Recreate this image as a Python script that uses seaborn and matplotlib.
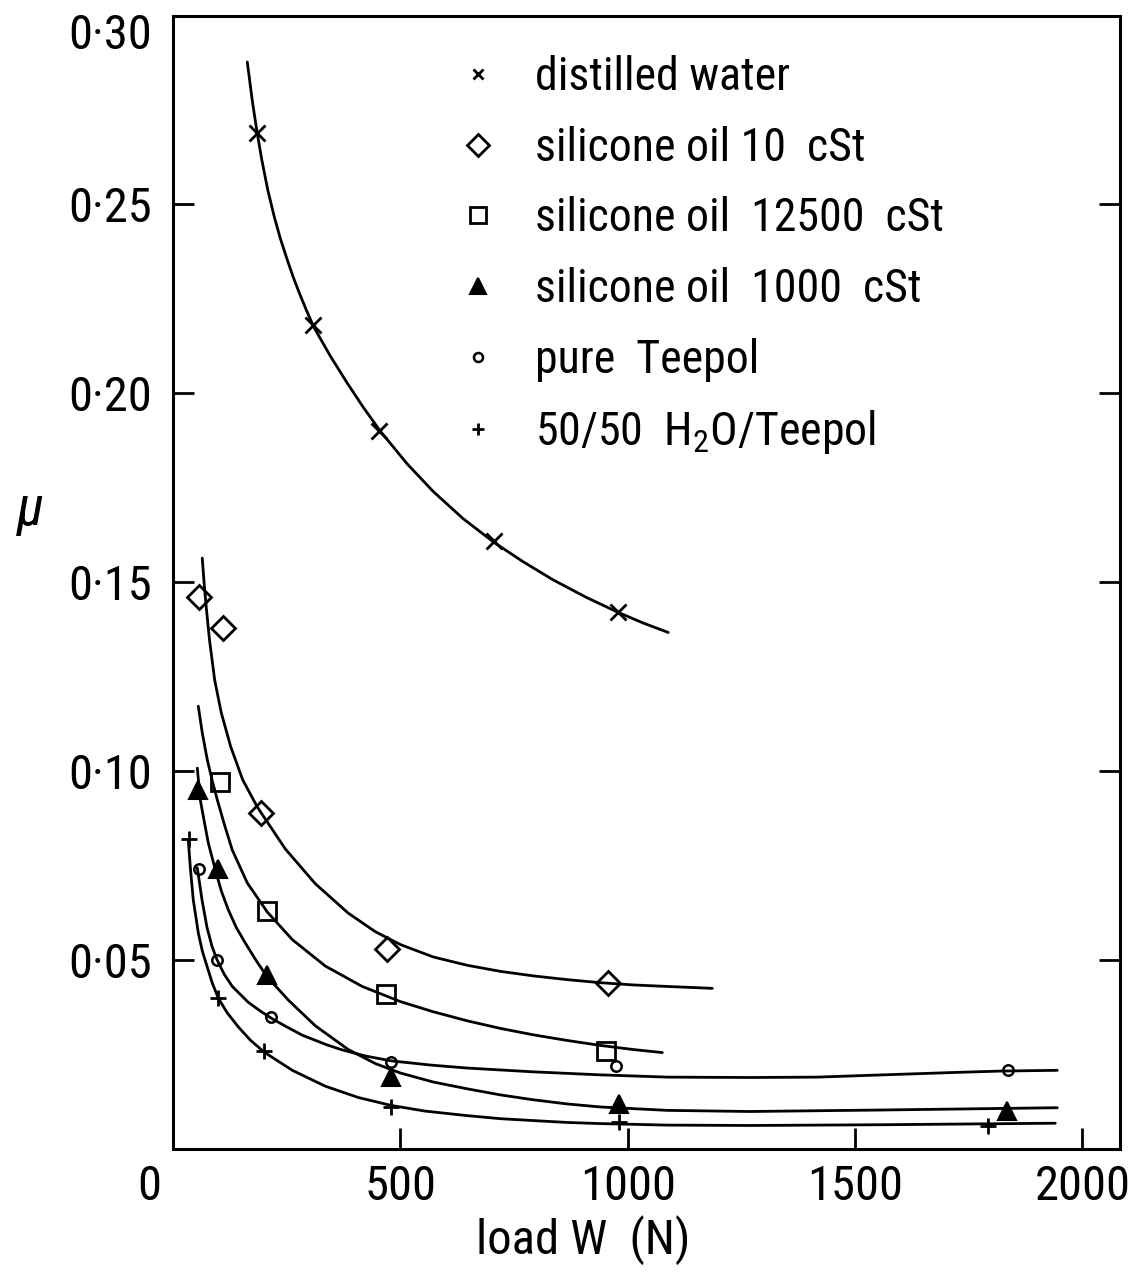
import matplotlib
matplotlib.use("Agg")
import matplotlib.pyplot as plt
from matplotlib import font_manager
from matplotlib.lines import Line2D
from matplotlib.ticker import FixedLocator, FuncFormatter
from matplotlib.transforms import ScaledTranslation
import seaborn as sns

# ---- measured points: load W (N) and friction coefficient mu ----
water_load = [185, 308, 452, 707, 979]
water_mu = [0.269, 0.218, 0.190, 0.161, 0.142]

oil10_load = [58, 111, 194, 471, 957]
oil10_mu = [0.146, 0.138, 0.089, 0.053, 0.044]

oil12500_load = [104, 207, 469, 953]
oil12500_mu = [0.097, 0.063, 0.041, 0.026]

oil1000_load = [54, 98, 207, 480, 980, 1835]
oil1000_mu = [0.095, 0.074, 0.046, 0.019, 0.012, 0.010]

teepol_load = [58, 97, 216, 480, 975, 1837]
teepol_mu = [0.074, 0.050, 0.035, 0.023, 0.022, 0.021]

mix_load = [36, 100, 201, 480, 982, 1793]
mix_mu = [0.082, 0.040, 0.026, 0.011, 0.007, 0.006]

# ---- hand-drawn trend curves through each set ----
water_curve_load = [163.4, 174.2, 184.5, 195.3, 208.5, 222.8, 235.8, 249.2, 263.7, 278.0,
                    293.4, 309.9, 345.9, 383.3, 418.5, 455.9, 515.3, 572.5, 638.4, 706.6,
                    770.4, 836.4, 909.0, 979.3, 1034.3, 1089.3]
water_curve_mu = [0.2877, 0.2776, 0.2694, 0.2618, 0.2538, 0.2467, 0.2411, 0.2361, 0.2310, 0.2265,
                  0.2220, 0.2175, 0.2099, 0.2027, 0.1963, 0.1900, 0.1813, 0.1740, 0.1668, 0.1605,
                  0.1554, 0.1506, 0.1460, 0.1420, 0.1392, 0.1367]

oil10_curve_load = [64.3, 68.4, 73.0, 80.3, 91.7, 106.2, 127.1, 153.3, 185.4, 247.0, 312.9,
                    385.5, 444.9, 499.9, 572.5, 647.3, 719.9, 792.4, 867.2, 939.8, 1012.4,
                    1087.2, 1186.1]
oil10_curve_mu = [0.1564, 0.1498, 0.1435, 0.1347, 0.1241, 0.1154, 0.1064, 0.0977, 0.0905,
                  0.0794, 0.0702, 0.0624, 0.0575, 0.0541, 0.0508, 0.0486, 0.0470, 0.0458,
                  0.0448, 0.0440, 0.0434, 0.0430, 0.0425]

oil12500_curve_load = [55.6, 64.4, 75.4, 86.4, 97.4, 113.9, 130.4, 163.4, 207.4, 262.4, 335.0,
                       416.3, 499.9, 572.5, 647.3, 719.9, 792.4, 867.2, 939.8, 1012.4, 1076.2]
oil12500_curve_mu = [0.1172, 0.1101, 0.1030, 0.0974, 0.0924, 0.0855, 0.0791, 0.0704, 0.0627,
                     0.0554, 0.0484, 0.0430, 0.0390, 0.0363, 0.0339, 0.0319, 0.0302, 0.0287,
                     0.0274, 0.0263, 0.0255]

oil1000_curve_load = [53.4, 60.0, 68.8, 77.6, 93.0, 106.2, 121.6, 139.2, 159.0, 183.2, 207.4,
                      253.6, 312.9, 385.5, 444.9, 499.9, 572.5, 647.3, 719.9, 792.4, 867.2,
                      939.8, 1087.2, 1269.7, 1562.2, 1753.5, 1944.9]
oil1000_curve_mu = [0.1008, 0.0924, 0.0866, 0.0810, 0.0739, 0.0683, 0.0633, 0.0586, 0.0545,
                    0.0498, 0.0455, 0.0394, 0.0326, 0.0263, 0.0226, 0.0201, 0.0177, 0.0159,
                    0.0143, 0.0130, 0.0119, 0.0111, 0.0102, 0.0099, 0.0103, 0.0106, 0.0109]

teepol_curve_load = [53.4, 63.8, 74.8, 85.8, 97.4, 112.8, 130.4, 165.6, 192.0, 216.2, 247.0,
                     284.4, 339.4, 372.3, 422.9, 480.1, 565.9, 647.3, 792.4, 939.8, 1087.2,
                     1269.7, 1417.0, 1562.2, 1709.5, 1819.5, 1944.9]
teepol_curve_mu = [0.0744, 0.0659, 0.0586, 0.0536, 0.0499, 0.0462, 0.0430, 0.0388, 0.0365,
                   0.0346, 0.0325, 0.0301, 0.0275, 0.0262, 0.0246, 0.0233, 0.0222, 0.0214,
                   0.0204, 0.0196, 0.0190, 0.0189, 0.0190, 0.0196, 0.0202, 0.0206, 0.0208]

mix_curve_load = [33.6, 38.0, 44.6, 55.6, 64.4, 75.4, 86.4, 99.6, 119.4, 143.6, 170.0, 200.8,
                  262.4, 335.0, 407.6, 480.1, 554.9, 647.3, 719.9, 792.4, 867.2, 939.8,
                  1087.2, 1269.7, 1562.2, 1753.5, 1940.5]
mix_curve_mu = [0.0818, 0.0746, 0.0659, 0.0572, 0.0524, 0.0481, 0.0439, 0.0399, 0.0360,
                0.0323, 0.0288, 0.0256, 0.0208, 0.0166, 0.0136, 0.0115, 0.0100, 0.0088,
                0.0080, 0.0075, 0.0070, 0.0067, 0.0063, 0.0062, 0.0064, 0.0066, 0.0068]

legend_labels = [
    "distilled water",
    "silicone oil 10  cSt",
    "silicone oil  12500  cSt",
    "silicone oil  1000  cSt",
    "pure  Teepol",
    r"50/50  H$_\mathregular{2}$O/Teepol",
]

x_ticks = [0, 500, 1000, 1500, 2000]
y_ticks = [0.05, 0.10, 0.15, 0.20, 0.25, 0.30]


def pick_font():
    entries = font_manager.fontManager.ttflist
    names = {f.name for f in entries}
    for cand in ["Liberation Sans Narrow", "Roboto Condensed", "Open Sans Condensed",
                 "Noto Sans Condensed", "DejaVu Sans Condensed"]:
        if cand in names:
            return cand, "normal"
    for fam in ["DejaVu Sans", "Noto Sans", "Open Sans", "Roboto"]:
        for f in entries:
            if f.name == fam and str(f.stretch) in ("condensed", "semi-condensed",
                                                     "extra-condensed", "ultra-condensed"):
                return fam, "condensed"
    return "Liberation Sans", "normal"


sns.set_style("ticks")
font_name, font_stretch = pick_font()
plt.rcParams["font.family"] = [font_name, "DejaVu Sans"]
plt.rcParams["font.stretch"] = font_stretch
plt.rcParams["mathtext.default"] = "regular"
plt.rcParams["text.color"] = "black"

fig = plt.figure(figsize=(11.45, 12.75), dpi=100)
ax = fig.add_axes([0.1511, 0.0989, 0.8271, 0.8889])

curve_kw = dict(color="black", linewidth=2.0, sort=False, estimator=None, legend=False, ax=ax)
for cx, cy in [(water_curve_load, water_curve_mu),
               (oil10_curve_load, oil10_curve_mu),
               (oil12500_curve_load, oil12500_curve_mu),
               (oil1000_curve_load, oil1000_curve_mu),
               (teepol_curve_load, teepol_curve_mu),
               (mix_curve_load, mix_curve_mu)]:
    line_ax = sns.lineplot(x=cx, y=cy, **curve_kw)
for ln in ax.lines:
    ln.set_solid_joinstyle("round")
    ln.set_solid_capstyle("round")

# marker style per fluid: (marker, size in plot, size in key, filled, edge width)
styles = [
    ("x", 11, 7.5, False, 2.0),
    ("D", 12.5, 11, False, 2.0),
    ("s", 13, 11.5, False, 2.0),
    ("^", 13, 11, True, 1.5),
    ("o", 7.5, 6.5, False, 1.8),
    ("+", 12, 9, False, 2.0),
]
series = [(water_load, water_mu), (oil10_load, oil10_mu), (oil12500_load, oil12500_mu),
          (oil1000_load, oil1000_mu), (teepol_load, teepol_mu), (mix_load, mix_mu)]

handles = []
for (px, py), (mk, ms, ms_key, filled, mew) in zip(series, styles):
    face = "black" if filled else "none"
    sns.lineplot(x=px, y=py, ax=ax, color="black", linestyle="", marker=mk,
                 markersize=ms, markeredgewidth=mew, markeredgecolor="black",
                 markerfacecolor=face, sort=False, estimator=None, legend=False)
    handles.append(Line2D([], [], linestyle="", marker=mk, markersize=ms_key,
                          markeredgewidth=mew, markeredgecolor="black",
                          markerfacecolor=face, color="black"))

ax.set_xlim(0, 2083)
ax.set_ylim(0, 0.30)
ax.xaxis.set_major_locator(FixedLocator(x_ticks))
ax.yaxis.set_major_locator(FixedLocator(y_ticks))
ax.xaxis.set_major_formatter(FuncFormatter(lambda v, p: f"{v:.0f}"))
ax.yaxis.set_major_formatter(FuncFormatter(lambda v, p: f"{v:.2f}".replace(".", "\u00b7")))

for side in ["left", "right", "top", "bottom"]:
    ax.spines[side].set_visible(True)
    ax.spines[side].set_linewidth(2.2)
    ax.spines[side].set_color("black")

ax.tick_params(axis="both", direction="in", length=15, width=2.0, colors="black",
               labelsize=35)
ax.tick_params(axis="y", left=True, right=True, labelright=False, pad=15)
ax.tick_params(axis="x", bottom=True, top=False, pad=11)

# shift the zero label of the load axis clear of the corner
zero_label = ax.xaxis.get_major_ticks()[0].label1
zero_label.set_transform(zero_label.get_transform() +
                         ScaledTranslation(-0.24, 0, fig.dpi_scale_trans))
# drop the topmost mu label a little below the frame corner
top_label = ax.yaxis.get_major_ticks()[-1].label1
top_label.set_transform(top_label.get_transform() +
                        ScaledTranslation(0, -0.15, fig.dpi_scale_trans))

ax.set_xlabel("load W  (N)", fontsize=35, color="black")
ax.xaxis.set_label_coords(0.433, -0.058)
ax.set_ylabel("\u03bc", fontsize=40, rotation=0, style="italic", color="black",
              ha="center", va="center")
ax.yaxis.set_label_coords(-0.1506, 0.5637)

leg = ax.legend(handles=handles, labels=legend_labels, loc="upper left",
                bbox_to_anchor=(0.2975, 0.965), frameon=False, fontsize=33,
                handlelength=1.0, handletextpad=0.75, labelspacing=0.58,
                borderpad=0, borderaxespad=0)

fig.savefig("out.png", dpi=100, facecolor="white")
